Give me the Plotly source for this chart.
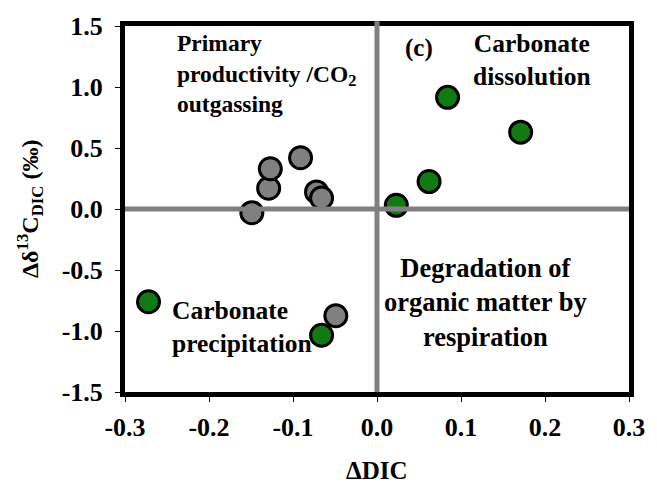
import plotly.graph_objects as go

# ΔDIC vs Δδ13C-DIC scatter, two groups of stations
gray_dic = [-0.149, -0.129, -0.127, -0.091, -0.072, -0.066, -0.049]
gray_d13c = [-0.03, 0.17, 0.33, 0.42, 0.14, 0.09, -0.875]

green_dic = [0.084, 0.171, 0.062, 0.023, -0.272, -0.066]
green_d13c = [0.915, 0.63, 0.225, 0.03, -0.76, -1.035]

x_tick_vals = [-0.3, -0.2, -0.1, 0.0, 0.1, 0.2, 0.3]
x_tick_text = ["-0.3", "-0.2", "-0.1", "0.0", "0.1", "0.2", "0.3"]
y_tick_vals = [-1.5, -1.0, -0.5, 0.0, 0.5, 1.0, 1.5]
y_tick_text = ["-1.5", "-1.0", "-0.5", "0.0", "0.5", "1.0", "1.5"]

FONT = "Liberation Serif, Times New Roman, serif"
GRAY = "#808080"
GREEN = "#127a12"

fig = go.Figure()

fig.add_trace(go.Scatter(
    x=gray_dic, y=gray_d13c, mode="markers",
    marker=dict(size=22, color=GRAY, line=dict(color="black", width=3)),
    showlegend=False, cliponaxis=False,
))
fig.add_trace(go.Scatter(
    x=green_dic, y=green_d13c, mode="markers",
    marker=dict(size=22, color=GREEN, line=dict(color="black", width=3)),
    showlegend=False, cliponaxis=False,
))

# quadrant dividers
fig.add_shape(type="line", xref="x", yref="y", x0=-0.3, x1=0.3, y0=0, y1=0,
              line=dict(color=GRAY, width=5), layer="above")
fig.add_shape(type="line", xref="x", yref="paper", x0=0, x1=0, y0=0, y1=1.013,
              line=dict(color=GRAY, width=5), layer="above")

def label(text, x, y, size, xanchor="center", align="center"):
    fig.add_annotation(
        text=text, x=x, y=y, xref="x", yref="y", showarrow=False,
        xanchor=xanchor, yanchor="middle", align=align,
        font=dict(family=FONT, size=size, color="black", weight="bold"),
    )

label("Primary<br>productivity /CO<sub>2</sub><br>outgassing", -0.241, 1.11, 23.5,
      xanchor="left", align="left")
label("(c)", 0.05, 1.32, 25)
label("Carbonate<br>dissolution", 0.185, 1.225, 25.5)
label("Carbonate<br>precipitation", -0.2465, -0.965, 25.5, xanchor="left", align="left")
label("Degradation of<br>organic matter by<br>respiration", 0.129, -0.765, 26.5)

# axis titles
fig.add_annotation(
    text="Δδ<sup>13</sup>C<sub>DIC</sub> (‰)", xref="paper", yref="paper",
    x=0, y=0.5, xshift=-95, textangle=-90, showarrow=False,
    xanchor="center", yanchor="middle",
    font=dict(family=FONT, size=24, color="black", weight="bold"),
)
fig.add_annotation(
    text="ΔDIC", xref="x", yref="paper", x=0, y=0, yshift=-78,
    showarrow=False, xanchor="center", yanchor="middle",
    font=dict(family=FONT, size=25, color="black", weight="bold"),
)

axis_common = dict(
    showline=True, linecolor="black", linewidth=5, mirror=True,
    showgrid=False, zeroline=False,
    ticks="outside", ticklen=5, tickwidth=1, tickcolor="black",
    tickfont=dict(family=FONT, size=26, color="black", weight="bold"),
)

fig.update_xaxes(range=[-0.3, 0.3], tickvals=x_tick_vals, ticktext=x_tick_text,
                 ticklabelstandoff=3, **axis_common)
fig.update_yaxes(range=[-1.5, 1.5], tickvals=y_tick_vals, ticktext=y_tick_text,
                 ticklabelstandoff=7, **axis_common)

fig.update_layout(
    width=657, height=487,
    margin=dict(l=125, r=16, t=18, b=95),
    paper_bgcolor="white", plot_bgcolor="white",
    showlegend=False,
)

fig.write_html("out.html")
